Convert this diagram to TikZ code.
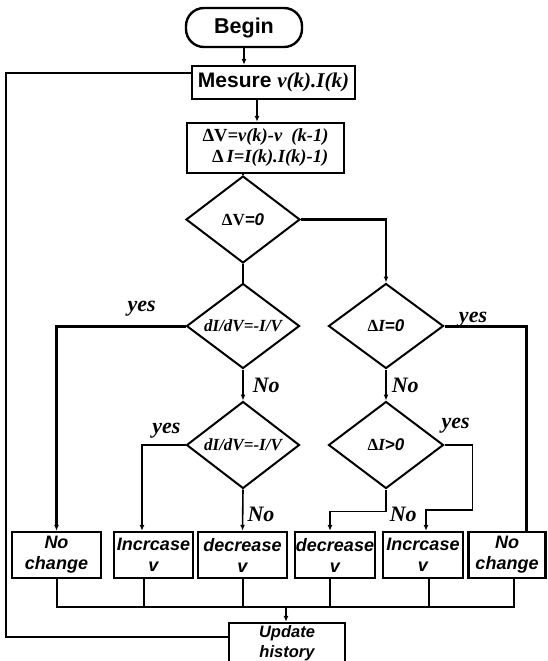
\documentclass[tikz,border=0pt]{standalone}
\usepackage{fontspec}
\setmainfont{Liberation Serif}
\setsansfont{Liberation Sans}
\usepackage{tikz}
\usetikzlibrary{shapes.geometric, arrows.meta, positioning}

\newcommand{\tms}[1]{{\rmfamily\bfseries\itshape #1}}

\begin{document}
\begin{tikzpicture}[
    x=1pt, y=-1pt,
    font=\sffamily\bfseries,
    box/.style={rectangle, draw, line width=2.4pt, align=center, inner sep=2pt},
    dec/.style={diamond, draw, line width=2pt, inner sep=0pt, aspect=1.33,
                font=\rmfamily\bfseries\itshape\fontsize{17}{19}\selectfont},
    res/.style={box, inner sep=1pt, minimum height=46pt,
                font=\sffamily\bfseries\itshape\fontsize{18}{21}\selectfont},
    ln/.style={line width=1.6pt},
    arr/.style={ln, -{Latex[length=6pt,width=5pt]}},
    thk/.style={line width=3pt},
    lbl/.style={font=\rmfamily\bfseries\itshape\fontsize{22}{22}\selectfont, inner sep=1pt},
]
\useasboundingbox (0,0) rectangle (547,661);
\clip (0,0) rectangle (547,661);

% top of the chart
\node[box, rounded corners=18pt, minimum width=116pt, minimum height=39pt,
      font=\sffamily\bfseries\fontsize{21.5}{24}\selectfont] (begin) at (244,27.5) {Begin};
\node[box, minimum width=163pt, minimum height=33pt,
      font=\sffamily\bfseries\fontsize{21}{24}\selectfont] (mesure) at (273.5,82.5) {Mesure \tms{v(k).I(k)}};
\node[box, minimum width=157pt, minimum height=50pt,
      font=\rmfamily\bfseries\itshape\fontsize{18.5}{21}\selectfont]
    (delta) at (265.5,148) {\textup{ΔV}=v(k)-v\ \ (k-1)\\\ \ \textup{Δ}\,I=I(k).I(k)-1)};

% decisions
\node[dec, minimum width=114pt, minimum height=87pt] (dv0) at (243,219.5) {\textup{ΔV}{\sffamily=0}};
\node[dec, minimum width=113pt, minimum height=85pt] (di1) at (243,326) {dI/dV=-I/V};
\node[dec, minimum width=115pt, minimum height=85pt] (dl0) at (386,326) {\textup{Δ}I{\sffamily=0}};
\node[dec, minimum width=113pt, minimum height=87pt] (di2) at (243,445) {dI/dV=-I/V};
\node[dec, minimum width=115pt, minimum height=87pt] (dlg) at (386,445) {\textup{Δ}I{\sffamily>0}};

% results
\node[res, minimum width=89pt] (b1) at (56.5,555) {No\\change};
\node[res, minimum width=79pt] (b2) at (153.5,555) {Incrcase\\v};
\node[res, minimum width=89pt] (b3) at (242.5,555) {decrease\\v};
\node[res, minimum width=80pt] (b4) at (335,555) {decrease\\v};
\node[res, minimum width=80pt] (b5) at (423,555) {Incrcase\\v};
\node[res, minimum width=77pt] (b6) at (507,555) {No\\change};

\node[res, minimum width=116pt, minimum height=41pt,
      font=\sffamily\bfseries\itshape\fontsize{16.5}{20}\selectfont] (upd) at (287,643.5) {Update\\history};

% connectors
\draw[arr] (begin) -- (mesure.north -| begin);
\draw[arr] ([xshift=-16.5pt]mesure.south) -- ([xshift=-8.5pt]delta.north);
\draw[ln] (delta.south -| dv0) -- (dv0.north);
\draw[arr, line width=2.4pt] (dv0.east) -| (dl0.north);
\draw[ln, line width=2pt] (dv0.south) -- (di1.north);

\draw[arr, thk] (di1.west) -| node[lbl, pos=0.17, above=7pt]{yes} (b1.north);
\draw[arr] (di1.south) -- node[lbl, right=8pt]{No} (di2.north);
\draw[thk] (dl0.east) -| node[lbl, pos=0.175, yshift=6pt]{yes} ([xshift=19pt]b6.north);
\draw[arr] (dl0.south) -- node[lbl, right=4pt]{No} (dlg.north);

\draw[arr, line width=2.4pt] (di2.west) -| node[lbl, pos=0.22, above=5pt]{yes} ([xshift=-11.5pt]b2.north);
\draw[arr] (di2.south) -- node[lbl, pos=0.6, right=3pt]{No} (b3.north);
\draw[arr] (dlg.south) -- ++(0,22) node[lbl, right=2pt, yshift=-3pt]{No} -| ([xshift=-5pt]b4.north);
\draw[arr] (dlg.east) -- node[lbl, pos=0.4, above=10pt]{yes} ++(28,0) -- ++(0,65) -| ([xshift=3pt]b5.north);

% collect and loop back
\coordinate (bus) at (286,607);
\foreach \b/\dx in {b1/0.5, b2/-9.5, b3/0.5, b4/-5, b5/6, b6/7}
    \draw[ln] ([xshift=\dx pt]\b.south) |- (bus);
\draw[arr] (bus) -- (upd.north -| bus);
\draw[line width=2.4pt] ([yshift=6.5pt]upd.west) -- ++(-222,0) |- ([yshift=9.5pt]mesure.west);
\end{tikzpicture}
\end{document}
